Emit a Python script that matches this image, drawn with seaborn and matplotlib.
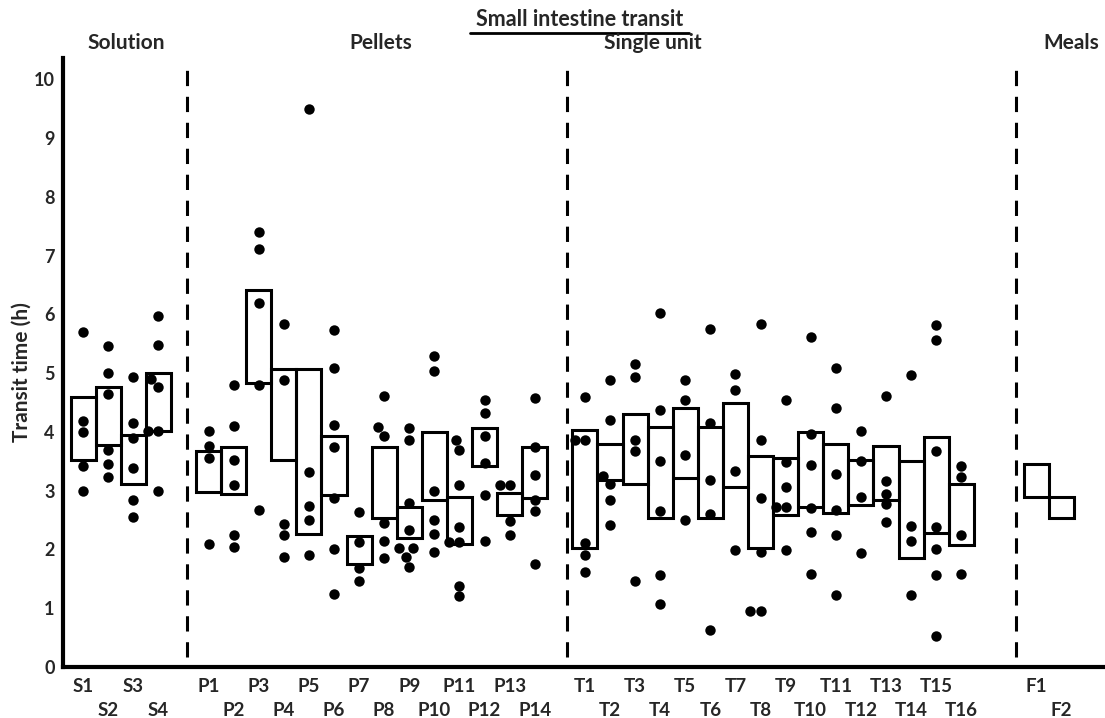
import numpy as np
import pandas as pd
import matplotlib
matplotlib.use('Agg')
import matplotlib.pyplot as plt
from matplotlib.lines import Line2D
import seaborn as sns

# formulation labels
solution_labels = ['S1', 'S2', 'S3', 'S4']
pellet_labels = ['P1', 'P2', 'P3', 'P4', 'P5', 'P6', 'P7', 'P8', 'P9', 'P10', 'P11', 'P12', 'P13', 'P14']
single_labels = ['T1', 'T2', 'T3', 'T4', 'T5', 'T6', 'T7', 'T8', 'T9', 'T10', 'T11', 'T12', 'T13', 'T14', 'T15', 'T16']
meal_labels = ['F1', 'F2']

# box limits (h)
solution_low = [3.53, 3.77, 3.12, 4.02]
solution_high = [4.60, 4.77, 3.95, 5.00]
pellet_low = [2.98, 2.95, 4.84, 3.53, 2.27, 2.92, 1.75, 2.53, 2.20, 2.84, 2.10, 3.42, 2.58, 2.88]
pellet_high = [3.67, 3.75, 6.41, 5.07, 5.07, 3.93, 2.23, 3.75, 2.72, 4.00, 2.90, 4.06, 2.96, 3.75]
single_low = [2.02, 3.18, 3.11, 2.53, 3.21, 2.53, 3.07, 2.02, 2.58, 2.73, 2.62, 2.76, 2.84, 1.86, 2.28, 2.07]
single_high = [4.03, 3.80, 4.31, 4.08, 4.40, 4.09, 4.50, 3.59, 3.55, 4.00, 3.80, 3.52, 3.76, 3.51, 3.92, 3.12]
meal_low = [2.90, 2.54]
meal_high = [3.45, 2.90]

# individual transit times (h)
solution_points = [
    [5.70, 4.18, 4.00, 3.42, 3.00],
    [5.47, 5.00, 4.64, 3.70, 3.46, 3.23],
    [4.94, 4.16, 3.89, 3.39, 2.85, 2.56],
    [5.97, 5.48, 4.90, 4.77, 4.02, 4.02, 3.00],
]
pellet_points = [
    [4.02, 3.76, 3.55, 2.09],
    [4.80, 4.10, 3.53, 3.10, 2.24, 2.04],
    [7.41, 7.12, 6.19, 4.80, 2.68],
    [5.83, 4.88, 2.44, 2.24, 1.87],
    [9.50, 3.32, 2.74, 2.50, 1.90],
    [5.73, 5.08, 4.12, 3.75, 2.87, 2.00, 1.25],
    [2.64, 2.13, 1.68, 1.47],
    [4.61, 4.08, 3.93, 2.45, 2.15, 1.85],
    [4.06, 3.86, 2.79, 2.33, 2.02, 2.02, 1.88, 1.71],
    [5.29, 5.03, 3.00, 2.51, 2.27, 1.96],
    [3.86, 3.69, 3.10, 2.39, 2.13, 2.13, 1.38, 1.20],
    [4.54, 4.33, 3.93, 3.47, 2.92, 2.15],
    [3.10, 3.10, 2.49, 2.24],
    [4.58, 3.75, 3.27, 2.84, 2.66, 1.75],
]
single_points = [
    [4.59, 3.87, 3.87, 2.11, 1.90, 1.61],
    [4.89, 4.20, 3.25, 3.12, 2.85, 2.41],
    [5.16, 4.94, 3.86, 3.68, 1.46],
    [6.02, 4.38, 3.50, 2.65, 1.56, 1.07],
    [4.89, 4.54, 3.61, 2.50],
    [5.76, 4.15, 3.19, 2.61, 0.63],
    [4.99, 4.72, 3.34, 1.99],
    [5.83, 3.87, 2.87, 1.96, 0.95, 0.95],
    [4.54, 3.49, 3.07, 2.73, 2.73, 1.99],
    [5.62, 3.97, 3.44, 2.70, 2.29, 1.59],
    [5.08, 4.41, 3.28, 2.68, 2.24, 1.22],
    [4.02, 3.50, 2.90, 1.94],
    [4.61, 3.16, 2.95, 2.77, 2.46],
    [4.97, 2.40, 2.15, 1.22],
    [5.82, 5.56, 3.68, 2.39, 2.00, 1.56, 0.52],
    [3.42, 3.24, 2.24, 1.58],
]
meal_points = [[], []]

groups = [
    ('Solution', solution_labels, solution_low, solution_high, solution_points, 0),
    ('Pellets', pellet_labels, pellet_low, pellet_high, pellet_points, 5),
    ('Single unit', single_labels, single_low, single_high, single_points, 20),
    ('Meals', meal_labels, meal_low, meal_high, meal_points, 38),
]
separators = [4.15, 19.3, 37.2]

rows, box_rows = [], []
for name, labels, low, high, points, start in groups:
    for i, lab in enumerate(labels):
        box_rows.append({'pos': start + i, 'label': lab, 'low': low[i], 'high': high[i], 'row': i % 2})
        for v in points[i]:
            rows.append({'pos': start + i, 'label': lab, 'time': v})
df = pd.DataFrame(rows)
boxes = pd.DataFrame(box_rows)

sns.set_style('white')
plt.rcParams['font.family'] = ['Lato', 'DejaVu Sans']

fig = plt.figure(figsize=(11.05, 7.18), dpi=100)
ax = fig.add_axes([0.057, 0.071, 0.943, 0.848])

ax.bar(boxes['pos'], boxes['high'] - boxes['low'], bottom=boxes['low'], width=1.0,
       fill=False, edgecolor='black', linewidth=2.2, zorder=1)
sns.swarmplot(data=df, x='pos', y='time', native_scale=True, orient='v',
              color='black', size=7.5, linewidth=0, ax=ax, zorder=2)

for s in separators:
    ax.axvline(s, ymin=0.016, ymax=0.996, color='black', lw=2.2, dashes=(5, 3.5))

ax.set_xlim(-0.8, 40.73)
ax.set_ylim(0, 10.36)
ax.set_yticks(range(0, 11))
ax.set_yticklabels([str(i) for i in range(0, 11)], fontsize=13, fontweight='bold')
ax.tick_params(axis='y', direction='in', length=10, width=2.2, pad=6)

# staggered category labels: first row on major ticks, second row on minor ticks
top_row = boxes[boxes['row'] == 0]
low_row = boxes[boxes['row'] == 1]
ax.set_xticks(top_row['pos'])
ax.set_xticklabels(top_row['label'], fontsize=13.5, fontweight='bold')
ax.set_xticks(low_row['pos'], minor=True)
ax.set_xticklabels(low_row['label'], minor=True, fontsize=13.5, fontweight='bold')
ax.tick_params(axis='x', which='major', length=0, pad=8)
ax.tick_params(axis='x', which='minor', length=0, pad=25)
ax.set_xlabel('')
ax.set_ylabel('')
for side in ['top', 'right']:
    ax.spines[side].set_visible(False)
for side in ['left', 'bottom']:
    ax.spines[side].set_linewidth(3)
    ax.spines[side].set_color('black')

fig.text(22 / 1105, 1 - 372 / 718, 'Transit time (h)', rotation=90, ha='center', va='center',
         fontsize=15, fontweight='bold')

title_x = {'Solution': 126, 'Pellets': 381, 'Single unit': 653, 'Meals': 1071}
for name, x in title_x.items():
    fig.text(x / 1105, 1 - 43 / 718, name, ha='center', va='center', fontsize=15, fontweight='bold')
fig.text(580 / 1105, 1 - 19 / 718, 'Small intestine transit', ha='center', va='center',
         fontsize=15.5, fontweight='bold')
fig.add_artist(Line2D([470 / 1105, 689 / 1105], [1 - 33 / 718, 1 - 33 / 718],
                      transform=fig.transFigure, color='black', lw=2))

fig.savefig('out.png', dpi=100)
